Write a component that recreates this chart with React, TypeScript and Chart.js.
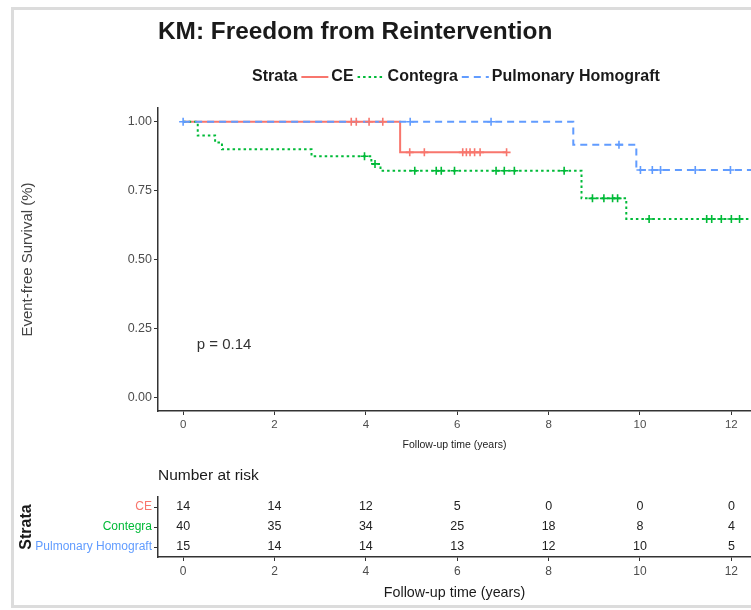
import React, { useEffect, useRef } from "react";
import { Chart, registerables } from "chart.js";
Chart.register(...registerables);

const SANS = "'Liberation Sans', Arial, Helvetica, sans-serif";

const chartTitle = "KM: Freedom from Reintervention";
const legendTitle = "Strata";
const strata = ["CE", "Contegra", "Pulmonary Homograft"];
const strataColors = ["#F8766D", "#00BA38", "#619CFF"];
const strataDash: number[][] = [[], [2.5, 3], [7, 5]];

// Kaplan-Meier step data (time in years, survival)
const ceTimes = [0, 4.75, 7.08];
const ceSurv = [1, 0.889, 0.889];
const ceCensor = [3.68, 3.79, 4.07, 4.37, 4.96, 5.28, 6.12, 6.2, 6.28, 6.38, 6.5, 7.08];

const contegraTimes = [0, 0.32, 0.7, 0.85, 2.81, 4.12, 4.32, 8.72, 9.7, 12.6];
const contegraSurv = [1, 0.95, 0.925, 0.9, 0.875, 0.847, 0.822, 0.722, 0.647, 0.647];
const contegraCensor = [3.97, 4.2, 5.07, 5.54, 5.65, 5.94, 6.85, 7.03, 7.25, 8.34, 8.96, 9.21, 9.4, 9.51, 10.2, 11.46, 11.57, 11.78, 12.0, 12.18];

const phTimes = [0, 8.54, 9.92, 12.6];
const phSurv = [1, 0.917, 0.825, 0.825];
const phCensor = [0, 4.97, 6.74, 9.54, 10.01, 10.27, 10.45, 11.21, 11.98];

const timeTicks = [0, 2, 4, 6, 8, 10, 12];
const survTicks = [0, 0.25, 0.5, 0.75, 1];

const riskTimes = [0, 2, 4, 6, 8, 10, 12];
const riskCE = [14, 14, 12, 5, 0, 0, 0];
const riskContegra = [40, 35, 34, 25, 18, 8, 4];
const riskPH = [15, 14, 14, 13, 12, 10, 5];

const pValueText = "p = 0.14";
const pValuePos = { x: 0.3, y: 0.19 };

const xTitle = "Follow-up time (years)";
const yTitle = "Event-free Survival (%)";
const riskTitle = "Number at risk";

const X_MIN = -0.55;
const X_MAX = 12.43;

function survAt(times: number[], surv: number[], t: number) {
  let v = surv[0];
  for (let i = 0; i < times.length; i++) if (times[i] <= t) v = surv[i];
  return v;
}

const kmSeries = [
  { times: ceTimes, surv: ceSurv, censor: ceCensor },
  { times: contegraTimes, surv: contegraSurv, censor: contegraCensor },
  { times: phTimes, surv: phSurv, censor: phCensor },
];
const riskSeries = [riskCE, riskContegra, riskPH];

export default function App() {
  const mainRef = useRef<HTMLCanvasElement>(null);
  const riskRef = useRef<HTMLCanvasElement>(null);

  useEffect(() => {
    const lineSets: any[] = [];
    const censorSets: any[] = [];
    kmSeries.forEach((s, i) => {
      lineSets.push({
        label: strata[i],
        data: s.times.map((t, j) => ({ x: t, y: s.surv[j] })),
        showLine: true,
        stepped: true,
        borderColor: strataColors[i],
        borderWidth: 2,
        borderDash: strataDash[i],
        pointRadius: 0,
        fill: false,
        order: 2 - i + 3,
      });
      censorSets.push({
        label: strata[i] + " censored",
        data: s.censor.map((t) => ({ x: t, y: survAt(s.times, s.surv, t) })),
        showLine: false,
        pointStyle: "cross",
        pointRadius: 4,
        pointBorderWidth: 1.6,
        pointBorderColor: strataColors[i],
        pointBackgroundColor: strataColors[i],
        order: 2 - i,
      });
    });

    const decor = {
      id: "kmDecor",
      afterDraw(chart: any) {
        const { ctx, chartArea } = chart;
        ctx.save();
        // title
        ctx.fillStyle = "#1a1a1a";
        ctx.font = `bold 24.4px ${SANS}`;
        ctx.textBaseline = "middle";
        ctx.textAlign = "left";
        ctx.fillText(chartTitle, chartArea.left, 32);
        // legend
        const ly = 77;
        ctx.font = `bold 16px ${SANS}`;
        let x = 252;
        ctx.fillText(legendTitle, x, ly);
        x += ctx.measureText(legendTitle).width;
        strata.forEach((name, i) => {
          x += 4;
          ctx.beginPath();
          ctx.strokeStyle = strataColors[i];
          ctx.lineWidth = 2;
          ctx.setLineDash(strataDash[i]);
          ctx.moveTo(x, ly);
          ctx.lineTo(x + 27, ly);
          ctx.stroke();
          ctx.setLineDash([]);
          x += 30;
          ctx.fillStyle = "#1a1a1a";
          ctx.fillText(name, x, ly);
          x += ctx.measureText(name).width;
        });
        // p-value
        const px = chart.scales.x.getPixelForValue(pValuePos.x);
        const py = chart.scales.y.getPixelForValue(pValuePos.y);
        ctx.font = `15px ${SANS}`;
        ctx.fillStyle = "#333";
        ctx.fillText(pValueText, px, py);
        ctx.restore();
      },
    };

    const c1 = new Chart(mainRef.current!, {
      type: "scatter",
      data: { datasets: [...lineSets, ...censorSets] },
      options: {
        responsive: false,
        animation: false,
        events: [],
        layout: { autoPadding: false, padding: { top: 108, left: 0, right: 0, bottom: 0 } },
        plugins: { legend: { display: false }, title: { display: false }, tooltip: { enabled: false } },
        scales: {
          x: {
            type: "linear",
            min: X_MIN,
            max: X_MAX,
            afterBuildTicks: (s: any) => {
              s.ticks = timeTicks.map((v) => ({ value: v }));
            },
            afterFit: (s: any) => {
              s.height = 44;
            },
            grid: { display: true, drawOnChartArea: false, drawTicks: true, tickLength: 4, color: "#333", lineWidth: 1 },
            border: { display: true, color: "#333", width: 1.5 },
            ticks: { color: "#4d4d4d", font: { family: SANS, size: 11.5 }, padding: 3, callback: (v: any) => String(v) },
            title: { display: true, text: xTitle, color: "#222", font: { family: SANS, size: 10.5 }, padding: { top: 0, bottom: 4 } },
          },
          y: {
            type: "linear",
            min: -0.05,
            max: 1.05,
            afterBuildTicks: (s: any) => {
              s.ticks = survTicks.map((v) => ({ value: v }));
            },
            afterFit: (s: any) => {
              s.width = 158;
            },
            grid: { display: true, drawOnChartArea: false, drawTicks: true, tickLength: 4, color: "#333", lineWidth: 1 },
            border: { display: true, color: "#333", width: 1.5 },
            ticks: { color: "#4d4d4d", font: { family: SANS, size: 12.5 }, padding: 2, callback: (v: any) => Number(v).toFixed(2) },
            title: { display: true, text: yTitle, color: "#444", font: { family: SANS, size: 15 }, padding: { top: 19, bottom: 0 } },
          },
        },
      } as any,
      plugins: [decor],
    });

    const riskSets = riskSeries.map((vals, i) => ({
      label: strata[i],
      data: riskTimes.map((t, j) => ({ x: t, y: strata[i], n: vals[j] })),
      showLine: false,
      pointRadius: 0,
    }));

    const riskDecor = {
      id: "riskDecor",
      afterDatasetsDraw(chart: any) {
        const { ctx, chartArea } = chart;
        ctx.save();
        ctx.font = `12.5px ${SANS}`;
        ctx.fillStyle = "#222";
        ctx.textAlign = "center";
        ctx.textBaseline = "middle";
        chart.data.datasets.forEach((ds: any, i: number) => {
          const meta = chart.getDatasetMeta(i);
          meta.data.forEach((el: any, j: number) => {
            ctx.fillText(String(ds.data[j].n), el.x, el.y);
          });
        });
        ctx.textAlign = "left";
        ctx.fillStyle = "#1a1a1a";
        ctx.font = `15.5px ${SANS}`;
        ctx.fillText(riskTitle, chartArea.left, 21);
        ctx.restore();
      },
    };

    const c2 = new Chart(riskRef.current!, {
      type: "scatter",
      data: { datasets: riskSets },
      options: {
        responsive: false,
        animation: false,
        events: [],
        layout: { autoPadding: false, padding: { top: 42, left: 0, right: 0, bottom: 0 } },
        plugins: { legend: { display: false }, title: { display: false }, tooltip: { enabled: false } },
        scales: {
          x: {
            type: "linear",
            min: X_MIN,
            max: X_MAX,
            afterBuildTicks: (s: any) => {
              s.ticks = timeTicks.map((v) => ({ value: v }));
            },
            afterFit: (s: any) => {
              s.height = 53;
            },
            grid: { display: true, drawOnChartArea: false, drawTicks: true, tickLength: 4, color: "#333", lineWidth: 1 },
            border: { display: true, color: "#333", width: 1.5 },
            ticks: { color: "#4d4d4d", font: { family: SANS, size: 12 }, padding: 3, callback: (v: any) => String(v) },
            title: { display: true, text: xTitle, color: "#1a1a1a", font: { family: SANS, size: 14.3 }, padding: { top: 0, bottom: 8 } },
          },
          y: {
            type: "category",
            labels: strata,
            offset: true,
            afterFit: (s: any) => {
              s.width = 158;
            },
            grid: { display: true, drawOnChartArea: false, drawTicks: true, tickLength: 4, color: "#333", lineWidth: 1, offset: false },
            border: { display: true, color: "#333", width: 1.5 },
            ticks: { color: (c: any) => strataColors[c.index], font: { family: SANS, size: 12 }, padding: 2 },
            title: { display: true, text: legendTitle, color: "#1a1a1a", font: { family: SANS, size: 16, weight: "bold" }, padding: { top: 17, bottom: 0 } },
          },
        },
      } as any,
      plugins: [riskDecor],
    });

    return () => {
      c1.destroy();
      c2.destroy();
    };
  }, []);

  return (
    <div style={{ position: "absolute", left: 0, top: 0, width: 751, height: 610, overflow: "hidden", background: "#fff" }}>
      <div style={{ position: "absolute", left: 11, top: 7, width: 800, height: 601, border: "3px solid #dcdcdc", boxSizing: "border-box" }} />
      <canvas ref={mainRef} width={751} height={455} style={{ position: "absolute", left: 0, top: 0, display: "block" }} />
      <canvas ref={riskRef} width={751} height={155} style={{ position: "absolute", left: 0, top: 455, display: "block" }} />
    </div>
  );
}
